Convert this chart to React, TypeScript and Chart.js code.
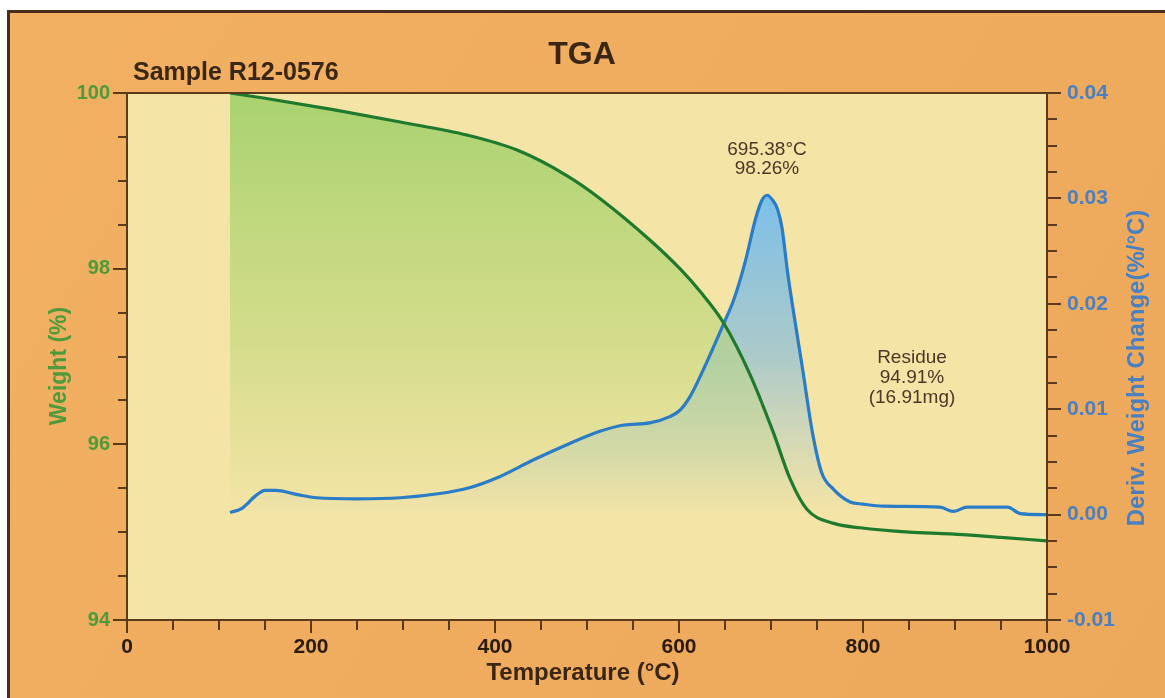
import React, { useEffect, useRef } from 'react';
import { Chart, registerables } from 'chart.js';

Chart.register(...registerables);

// ---- Data ----
const weightTemps = [112, 150, 224, 297, 370, 424, 478, 514, 568, 601, 623, 648, 677, 702, 721, 739, 768, 797, 850, 895, 950, 1000];
const weightValues = [100.0, 99.94, 99.81, 99.67, 99.52, 99.35, 99.06, 98.8, 98.33, 98.0, 97.74, 97.39, 96.8, 96.15, 95.6, 95.26, 95.1, 95.05, 95.0, 94.98, 94.94, 94.9];

const derivTemps = [112, 125, 140, 150, 162, 185, 206, 250, 297, 340, 370, 405, 442, 480, 514, 540, 568, 590, 601, 612, 623, 648, 660, 672, 683, 690, 696, 702, 707, 712, 718, 726, 734, 745, 755, 768, 786, 800, 822, 884, 898, 913, 957, 971, 1000];
const derivValues = [0.0002, 0.0006, 0.0018, 0.0023, 0.0023, 0.0019, 0.0016, 0.0015, 0.0016, 0.002, 0.0025, 0.0036, 0.0052, 0.0067, 0.0079, 0.0085, 0.0087, 0.0093, 0.0099, 0.0112, 0.0131, 0.018, 0.0205, 0.024, 0.028, 0.0298, 0.0303, 0.0298, 0.029, 0.0272, 0.023, 0.0184, 0.014, 0.0078, 0.004, 0.0024, 0.0012, 0.001, 0.0008, 0.0007, 0.0003, 0.0007, 0.0007, 0.0001, 0.0];

const chartTitle = 'TGA';
const sampleLabel = 'Sample R12-0576';
const xTitle = 'Temperature (°C)';
const yTitle = 'Weight (%)';
const y1Title = 'Deriv. Weight Change(%/°C)';
const peakLabel = ['695.38°C', '98.26%'];
const residueLabel = ['Residue', '94.91%', '(16.91mg)'];

const X_MIN = 0, X_MAX = 1000, X_MAJOR = 200, X_MINOR = 50;
const Y_MIN = 94, Y_MAX = 100, Y_MAJOR = 2, Y_MINOR = 0.5;
const Y1_MIN = -0.01, Y1_MAX = 0.04, Y1_MAJOR = 0.01, Y1_MINOR = 0.0025;

const FONT = '"Liberation Sans", Arial, Helvetica, sans-serif';
const AXIS_COLOR = '#5a3a1c';
const GREEN_TEXT = '#4f9a3a';
const BLUE_TEXT = '#4a80c2';
const DARK_TEXT = '#3a2614';

const W = 1165, H = 698;

const tgaPlugin = {
  id: 'tgaDecor',
  beforeDraw(chart: any) {
    const { ctx, chartArea: a } = chart;
    ctx.save();
    ctx.fillStyle = '#ffffff';
    ctx.fillRect(0, 0, W, H);
    const og = ctx.createLinearGradient(0, 0, W, H);
    og.addColorStop(0, '#f2b062');
    og.addColorStop(1, '#eda95b');
    ctx.fillStyle = og;
    ctx.fillRect(8, 10, W - 8, H - 10);
    ctx.fillStyle = '#4a2c1c';
    ctx.fillRect(7, 10, 3, H - 10);
    ctx.fillRect(7, 10, W - 7, 3);
    if (a) {
      ctx.fillStyle = '#f4e4a6';
      ctx.fillRect(a.left, a.top, a.right - a.left, a.bottom - a.top);
    }
    ctx.restore();
  },
  afterDraw(chart: any) {
    const { ctx, chartArea: a, scales } = chart;
    const xs = scales.x, ys = scales.y, y1s = scales.y1;
    ctx.save();
    // box
    ctx.strokeStyle = AXIS_COLOR;
    ctx.lineWidth = 2;
    ctx.strokeRect(a.left, a.top, a.right - a.left, a.bottom - a.top);
    // ticks
    ctx.lineWidth = 2;
    ctx.beginPath();
    const nx = Math.round((X_MAX - X_MIN) / X_MINOR);
    for (let i = 0; i <= nx; i++) {
      const v = X_MIN + i * X_MINOR;
      const px = Math.round(xs.getPixelForValue(v));
      const major = i % Math.round(X_MAJOR / X_MINOR) === 0;
      ctx.moveTo(px, a.bottom);
      ctx.lineTo(px, a.bottom + (major ? 13 : 10));
    }
    const ny = Math.round((Y_MAX - Y_MIN) / Y_MINOR);
    for (let i = 0; i <= ny; i++) {
      const v = Y_MIN + i * Y_MINOR;
      const py = Math.round(ys.getPixelForValue(v));
      const major = i % Math.round(Y_MAJOR / Y_MINOR) === 0;
      ctx.moveTo(a.left - (major ? 14 : 9), py);
      ctx.lineTo(a.left, py);
    }
    const ny1 = Math.round((Y1_MAX - Y1_MIN) / Y1_MINOR);
    for (let i = 0; i <= ny1; i++) {
      const v = Y1_MIN + i * Y1_MINOR;
      const py = Math.round(y1s.getPixelForValue(v));
      const major = i % Math.round(Y1_MAJOR / Y1_MINOR) === 0;
      ctx.moveTo(a.right, py);
      ctx.lineTo(a.right + (major ? 14 : 10), py);
    }
    ctx.stroke();

    // titles
    ctx.textBaseline = 'middle';
    ctx.fillStyle = DARK_TEXT;
    ctx.textAlign = 'center';
    ctx.font = `bold 32px ${FONT}`;
    ctx.fillText(chartTitle, 582, 55);
    ctx.textAlign = 'left';
    ctx.font = `bold 25px ${FONT}`;
    ctx.fillText(sampleLabel, 133, 73);
    ctx.textAlign = 'center';
    ctx.font = `bold 24px ${FONT}`;
    ctx.fillText(xTitle, 583, 673);

    ctx.save();
    ctx.translate(60, 366);
    ctx.rotate(-Math.PI / 2);
    ctx.fillStyle = GREEN_TEXT;
    ctx.font = `bold 23px ${FONT}`;
    ctx.fillText(yTitle, 0, 0);
    ctx.restore();

    ctx.save();
    ctx.translate(1137, 368);
    ctx.rotate(-Math.PI / 2);
    ctx.fillStyle = BLUE_TEXT;
    ctx.font = `bold 24px ${FONT}`;
    ctx.fillText(y1Title, 0, 0);
    ctx.restore();

    // annotations
    ctx.fillStyle = '#4a3826';
    ctx.font = `19px ${FONT}`;
    peakLabel.forEach((t, i) => ctx.fillText(t, 767, 150 + i * 19));
    residueLabel.forEach((t, i) => ctx.fillText(t, 912, 358 + i * 20));
    ctx.restore();
  },
};

export default function App() {
  const ref = useRef<HTMLCanvasElement | null>(null);

  useEffect(() => {
    const canvas = ref.current;
    if (!canvas) return;

    const greenFill = (c: any) => {
      const chart = c.chart;
      const a = chart.chartArea;
      if (!a) return 'rgba(0,0,0,0)';
      const bottom = chart.scales.y1.getPixelForValue(0);
      const g = chart.ctx.createLinearGradient(0, a.top, 0, bottom);
      g.addColorStop(0, 'rgba(168,210,112,1)');
      g.addColorStop(0.55, 'rgba(185,214,118,0.6)');
      g.addColorStop(1, 'rgba(190,215,120,0)');
      return g;
    };
    const blueFill = (c: any) => {
      const chart = c.chart;
      const a = chart.chartArea;
      if (!a) return 'rgba(0,0,0,0)';
      const top = chart.scales.y1.getPixelForValue(0.03);
      const bottom = chart.scales.y1.getPixelForValue(0);
      const g = chart.ctx.createLinearGradient(0, top, 0, bottom);
      g.addColorStop(0, 'rgba(118,190,236,0.95)');
      g.addColorStop(0.5, 'rgba(125,185,225,0.6)');
      g.addColorStop(1, 'rgba(140,190,220,0)');
      return g;
    };

    const chart = new Chart(canvas, {
      type: 'line',
      data: {
        datasets: [
          {
            label: 'Weight',
            data: weightTemps.map((t, i) => ({ x: t, y: weightValues[i] })),
            yAxisID: 'y',
            borderColor: '#1f7a2e',
            borderWidth: 3.2,
            backgroundColor: greenFill,
            fill: 'start',
            pointRadius: 0,
            cubicInterpolationMode: 'monotone',
          },
          {
            label: 'Deriv',
            data: derivTemps.map((t, i) => ({ x: t, y: derivValues[i] })),
            yAxisID: 'y1',
            borderColor: '#2a7cc6',
            borderWidth: 3.2,
            backgroundColor: blueFill,
            fill: 'origin',
            pointRadius: 0,
            cubicInterpolationMode: 'monotone',
          },
        ],
      },
      options: {
        responsive: false,
        animation: false,
        devicePixelRatio: 1,
        layout: { padding: { top: 93, left: 0, right: 0, bottom: 0 } },
        plugins: {
          legend: { display: false },
          tooltip: { enabled: false },
          title: { display: false },
          filler: { drawTime: 'beforeDatasetsDraw' },
        },
        scales: {
          x: {
            type: 'linear',
            min: X_MIN,
            max: X_MAX,
            grid: { display: false, drawTicks: false },
            border: { display: false },
            ticks: {
              stepSize: X_MAJOR,
              padding: 15,
              color: '#2a1a0a',
              font: { family: FONT, size: 21, weight: 'bold' },
              maxRotation: 0,
              callback: (v: any) => String(Math.round(Number(v))),
            },
            afterFit: (s: any) => { s.height = H - 620; },
          },
          y: {
            type: 'linear',
            position: 'left',
            min: Y_MIN,
            max: Y_MAX,
            grid: { display: false, drawTicks: false },
            border: { display: false },
            ticks: {
              stepSize: Y_MAJOR,
              padding: 17,
              color: GREEN_TEXT,
              font: { family: FONT, size: 20, weight: 'bold' },
            },
            afterFit: (s: any) => { s.width = 127; },
          },
          y1: {
            type: 'linear',
            position: 'right',
            min: Y1_MIN,
            max: Y1_MAX,
            grid: { display: false, drawTicks: false },
            border: { display: false },
            ticks: {
              stepSize: Y1_MAJOR,
              padding: 20,
              color: BLUE_TEXT,
              font: { family: FONT, size: 21, weight: 'bold' },
              callback: (v: any) => (Math.abs(Number(v)) < 1e-9 ? '0.00' : Number(v).toFixed(2)),
            },
            afterFit: (s: any) => { s.width = W - 1047; },
          },
        },
      } as any,
      plugins: [tgaPlugin],
    });

    return () => chart.destroy();
  }, []);

  return (
    <canvas
      ref={ref}
      width={W}
      height={H}
      style={{ position: 'fixed', left: 0, top: 0, width: W, height: H, display: 'block' }}
    />
  );
}
